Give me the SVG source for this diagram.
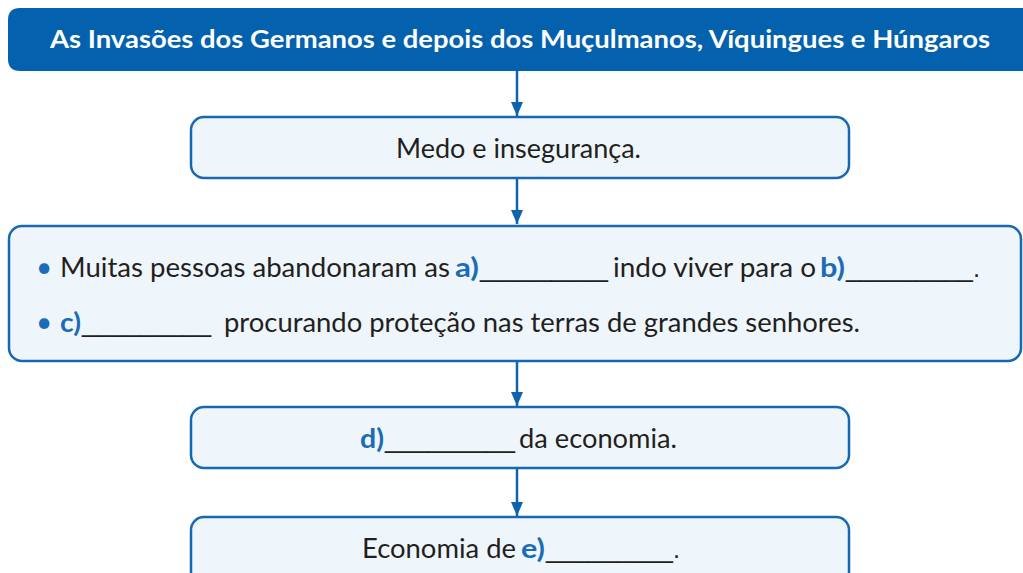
<svg xmlns="http://www.w3.org/2000/svg" width="1023" height="573" viewBox="0 0 1023 573">
<defs>
<marker id="ah" markerWidth="14" markerHeight="12" refX="14" refY="6" orient="auto" markerUnits="userSpaceOnUse">
<path d="M0,0 L14,6 L0,12 Z" fill="#0F63AE"/>
</marker>
<style>
.box{fill:#EFF6FB;stroke:#1768B3;stroke-width:2.5}
.t{font-family:Lato,"Open Sans",sans-serif;font-size:26px;fill:#231F20}
.b{font-weight:bold;fill:#1B6CB6}
.u{font-family:"Liberation Sans",sans-serif}
.bul{font-size:28px;fill:#1B6CB6}
.title{font-family:Lato,"Open Sans",sans-serif;font-size:24px;font-weight:bold;fill:#FFFFFF}
.c{stroke:#0F63AE;stroke-width:2.5;fill:none}
</style>
</defs>
<rect width="1023" height="573" fill="#FFFFFF"/>
<g id="title">
<path d="M20,8 H1023 V71 H20 Q8,71 8,59 V20 Q8,8 20,8 Z" fill="#0361AD"/>
<text class="title" x="50" y="48" textLength="940" lengthAdjust="spacingAndGlyphs">As Invasões dos Germanos e depois dos Muçulmanos, Víquingues e Húngaros</text>
</g>
<g id="connectors">
<line class="c" x1="517" y1="71" x2="517" y2="116" marker-end="url(#ah)"/>
<line class="c" x1="517" y1="178" x2="517" y2="224" marker-end="url(#ah)"/>
<line class="c" x1="517" y1="361" x2="517" y2="406" marker-end="url(#ah)"/>
<line class="c" x1="517" y1="468" x2="517" y2="516" marker-end="url(#ah)"/>
</g>
<g id="n1">
<rect class="box" x="191" y="117" width="658" height="61" rx="13"/>
<text class="t" x="396" y="158" textLength="245" lengthAdjust="spacingAndGlyphs">Medo e insegurança.</text>
</g>
<g id="n2">
<rect class="box" x="9" y="226" width="1012" height="135" rx="13"/>
<text class="t"><tspan class="bul" x="36" y="277">•</tspan><tspan x="60" y="277" textLength="390" lengthAdjust="spacingAndGlyphs">Muitas pessoas abandonaram as</tspan><tspan class="b" x="455" y="277" textLength="24" lengthAdjust="spacingAndGlyphs">a)</tspan><tspan class="u" x="480" y="277" textLength="128" lengthAdjust="spacingAndGlyphs">_________</tspan><tspan x="613" y="277" textLength="203" lengthAdjust="spacingAndGlyphs">indo viver para o</tspan><tspan class="b" x="820" y="277" textLength="25" lengthAdjust="spacingAndGlyphs">b)</tspan><tspan class="u" x="846" y="277" textLength="134" lengthAdjust="spacingAndGlyphs">_________.</tspan></text>
<text class="t"><tspan class="bul" x="36" y="332">•</tspan><tspan class="b" x="60" y="332" textLength="21" lengthAdjust="spacingAndGlyphs">c)</tspan><tspan class="u" x="82" y="332" textLength="129" lengthAdjust="spacingAndGlyphs">_________</tspan><tspan x="224" y="332" textLength="636" lengthAdjust="spacingAndGlyphs">procurando proteção nas terras de grandes senhores.</tspan></text>
</g>
<g id="n3">
<rect class="box" x="191" y="407" width="658" height="61" rx="13"/>
<text class="t"><tspan class="b" x="360" y="448" textLength="24" lengthAdjust="spacingAndGlyphs">d)</tspan><tspan class="u" x="385" y="448" textLength="130" lengthAdjust="spacingAndGlyphs">_________</tspan><tspan x="519" y="448" textLength="158" lengthAdjust="spacingAndGlyphs">da economia.</tspan></text>
</g>
<g id="n4">
<rect class="box" x="191" y="517" width="658" height="70" rx="13"/>
<text class="t"><tspan x="362" y="558" textLength="154" lengthAdjust="spacingAndGlyphs">Economia de</tspan><tspan class="b" x="521" y="558" textLength="24" lengthAdjust="spacingAndGlyphs">e)</tspan><tspan class="u" x="546" y="558" textLength="134" lengthAdjust="spacingAndGlyphs">_________.</tspan></text>
</g>
</svg>
